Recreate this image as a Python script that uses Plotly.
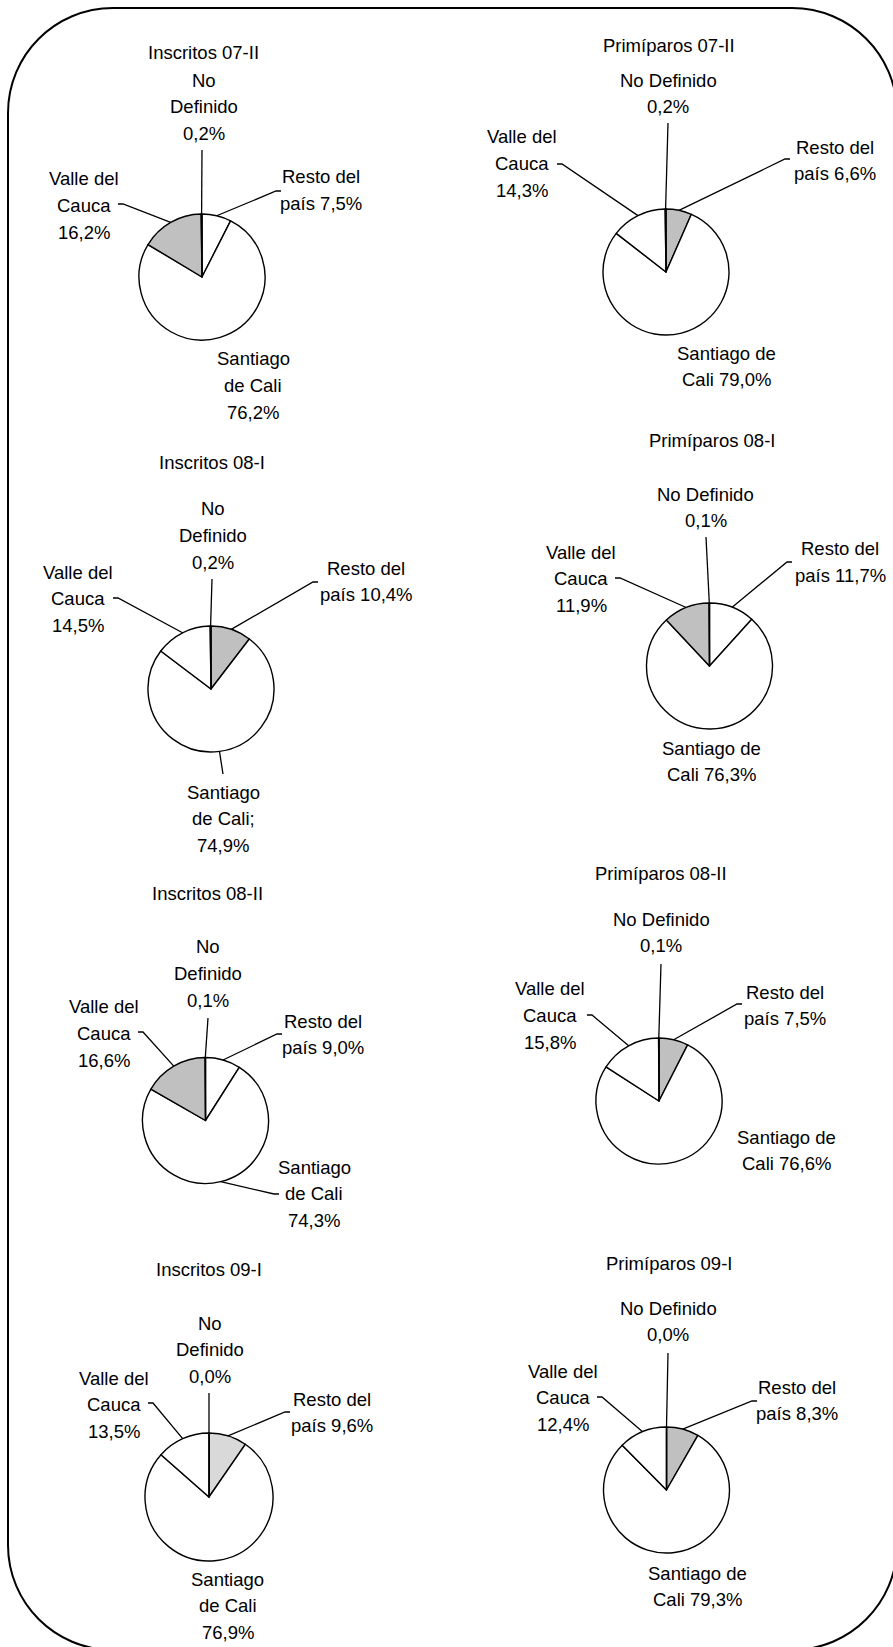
import math
import plotly.graph_objects as go

W, H = 893, 1647

# ---------------- data ----------------
categories = ["Resto del país", "Santiago de Cali", "Valle del Cauca", "No Definido"]
titles = ["Inscritos 07-II", "Primíparos 07-II", "Inscritos 08-I", "Primíparos 08-I",
          "Inscritos 08-II", "Primíparos 08-II", "Inscritos 09-I", "Primíparos 09-I"]
resto = [7.5, 6.6, 10.4, 11.7, 9.0, 7.5, 9.6, 8.3]
santiago = [76.2, 79.0, 74.9, 76.3, 74.3, 76.6, 76.9, 79.3]
valle = [16.2, 14.3, 14.5, 11.9, 16.6, 15.8, 13.5, 12.4]
no_definido = [0.2, 0.2, 0.2, 0.1, 0.1, 0.1, 0.0, 0.0]

# ---------------- styles ----------------
W_ = "#ffffff"
G_ = "#c0c0c0"
L_ = "#d9d9d9"
fills = [
    [W_, W_, G_, W_],
    [G_, W_, W_, W_],
    [G_, W_, W_, W_],
    [W_, W_, G_, W_],
    [W_, W_, G_, W_],
    [G_, W_, W_, W_],
    [L_, W_, W_, W_],
    [G_, W_, W_, W_],
]

# pie centre (px) and radius (px), title position (px)
pies = [
    (202, 277, 63), (666, 272, 63),
    (211, 689, 63), (709.5, 666, 63),
    (205.5, 1120.5, 63), (659, 1101, 63),
    (209, 1497, 64), (666.5, 1490, 63),
]
title_pos = [(203, 52), (669, 45), (212, 462), (712, 440),
             (207, 893), (661, 873), (209, 1269), (669, 1263)]

# label layout per chart, order of categories: Resto, Santiago, Valle, ND
# (x centre, first line y, word wrap, leader outer end or None, tick dir)
labels = [
    [(321, 177, [2, 2], (276, 191), 1), (253, 359, [1, 2, 1], None, 0),
     (84, 179, [2, 1, 1], (123, 204), -1), (204, 80, [1, 1, 1], (202, 150), 0)],
    [(835, 147, [2, 2], (785, 159), 1), (726, 353, [2, 2], None, 0),
     (522, 137, [2, 1, 1], (562, 164), -1), (668, 80, [2, 1], (668, 123), 0)],
    [(366, 568, [2, 2], (313, 582), 1), (223, 792, [1, 2, 1], (223, 774), 0),
     (78, 572, [2, 1, 1], (118, 598), -1), (213, 509, [1, 1, 1], (212, 579), 0)],
    [(840, 549, [2, 2], (787, 562), 1), (711, 748, [2, 2], None, 0),
     (581, 552, [2, 1, 1], (620, 578), -1), (705.5, 494, [2, 1], (706, 537), 0)],
    [(323, 1021, [2, 2], (277, 1034), 1), (314, 1167, [1, 2, 1], (274, 1194), 1),
     (104, 1007, [2, 1, 1], (143, 1032), -1), (208, 947, [1, 1, 1], (208, 1018), 0)],
    [(785, 992, [2, 2], (737, 1004), 1), (786, 1137, [2, 2], None, 0),
     (550, 989, [2, 1, 1], (592, 1015), -1), (661, 919, [2, 1], (661, 964), 0)],
    [(332, 1399, [2, 2], (285, 1412), 1), (228, 1579, [1, 2, 1], None, 0),
     (114, 1378, [2, 1, 1], (153, 1403), -1), (210, 1323, [1, 1, 1], (209, 1393), 0)],
    [(797, 1387, [2, 2], (752, 1401), 1), (697, 1573, [2, 2], None, 0),
     (563, 1371, [2, 1, 1], (602, 1397), -1), (668, 1308, [2, 1], (668, 1353), 0)],
]
separators = {(2, 1): "; "}  # "Santiago de Cali; 74,9%"

LINE_H = 26.8
FONT = dict(family="Arial, Liberation Sans, sans-serif", size=18.5, color="#000000")


def px(x, y):
    return x / W, 1 - y / H


def fmt(v):
    return f"{v:.1f}".replace(".", ",") + "%"


fig = go.Figure()
annotations = []
shapes = []

for i in range(8):
    vals = [resto[i], santiago[i], valle[i], no_definido[i]]
    cx, cy, r = pies[i]
    x0, y1 = px(cx - r, cy - r)
    x1, y0 = px(cx + r, cy + r)
    fig.add_trace(go.Pie(
        labels=categories, values=vals, sort=False, direction="clockwise",
        rotation=0, textinfo="none", hoverinfo="label+percent",
        marker=dict(colors=fills[i], line=dict(color="#000000", width=1.4)),
        domain=dict(x=[x0, x1], y=[y0, y1]), showlegend=False,
    ))
    tx, ty = px(*title_pos[i])
    annotations.append(dict(x=tx, y=ty, text=titles[i], showarrow=False,
                            xanchor="center", yanchor="middle", font=FONT))
    total = sum(vals)
    cum = 0.0
    for j, v in enumerate(vals):
        lx, ly, wrap, lead, tick = labels[i][j]
        sep = separators.get((i, j), " ")
        words = (categories[j] + sep + fmt(v)).split(" ")
        k = 0
        for n, cnt in enumerate(wrap):
            line = " ".join(words[k:k + cnt])
            k += cnt
            ax, ay = px(lx, ly + n * LINE_H)
            annotations.append(dict(x=ax, y=ay, text=line, showarrow=False,
                                    xanchor="center", yanchor="middle", font=FONT))
        mid = (cum + v / 2) / total
        cum += v
        if lead is not None:
            th = 2 * math.pi * mid
            sx, sy = cx + r * math.sin(th), cy - r * math.cos(th)
            ex, ey = lead
            pts = []
            if tick != 0:
                pts.append((ex + 5 * tick, ey))
            pts.append((ex, ey))
            pts.append((sx, sy))
            path = "M " + " L ".join("%.5f,%.5f" % px(a, b) for a, b in pts)
            shapes.append(dict(type="path", path=path, xref="paper", yref="paper",
                               line=dict(color="#000000", width=1.3)))

# rounded outer border
bx0, by0, bx1, by1, rr = 8, 8, 897, 1650, 105
k = 0.5523 * rr


def P(x, y):
    a, b = px(x, y)
    return "%.5f,%.5f" % (a, b)


border = (
    f"M {P(bx0 + rr, by0)} L {P(bx1 - rr, by0)} "
    f"C {P(bx1 - rr + k, by0)} {P(bx1, by0 + rr - k)} {P(bx1, by0 + rr)} "
    f"L {P(bx1, by1 - rr)} "
    f"C {P(bx1, by1 - rr + k)} {P(bx1 - rr + k, by1)} {P(bx1 - rr, by1)} "
    f"L {P(bx0 + rr, by1)} "
    f"C {P(bx0 + rr - k, by1)} {P(bx0, by1 - rr + k)} {P(bx0, by1 - rr)} "
    f"L {P(bx0, by0 + rr)} "
    f"C {P(bx0, by0 + rr - k)} {P(bx0 + rr - k, by0)} {P(bx0 + rr, by0)} Z"
)
shapes.append(dict(type="path", path=border, xref="paper", yref="paper",
                   line=dict(color="#000000", width=2)))

fig.update_layout(
    width=W, height=H,
    margin=dict(l=0, r=0, t=0, b=0),
    paper_bgcolor="#ffffff", plot_bgcolor="#ffffff",
    annotations=annotations, shapes=shapes, showlegend=False,
)

fig.write_html(
    "out.html",
    config={"displayModeBar": False},
    post_script="document.body.style.margin='0px';"
                "document.body.style.padding='0px';"
                "document.documentElement.style.overflow='hidden';",
)
